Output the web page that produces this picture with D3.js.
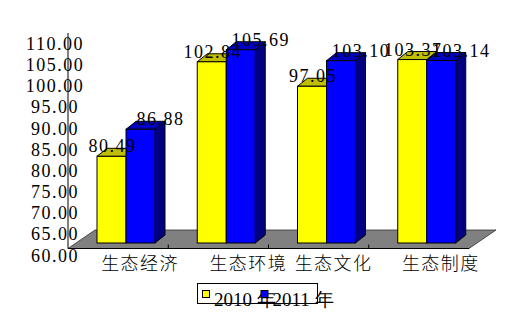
<!DOCTYPE html>
<meta charset="utf-8">
<script src="https://cdnjs.cloudflare.com/ajax/libs/d3/7.3.0/d3.min.js"></script>
<style>
  body { margin: 0; background: #fff; }
</style>
<div id="chart"></div>
<script>
// data
const categories = ["生态经济", "生态环境", "生态文化", "生态制度"];
const seriesNames = ["2010 年", "2011 年"];
const values2010 = [80.49, 102.84, 97.05, 103.37];
const values2011 = [86.88, 105.69, 103.10, 103.14];
const yTickValues = [60, 65, 70, 75, 80, 85, 90, 95, 100, 105, 110];

const width = 510, height = 328;
const numFont = "'Liberation Serif', 'DejaVu Serif', serif";
const cjkFont = "'Noto Sans CJK SC', sans-serif";

const svg = d3.select("#chart").append("svg")
    .attr("width", width).attr("height", height);
svg.append("rect").attr("width", width).attr("height", height).attr("fill", "#fff");

// scales
const x = d3.scaleBand().domain(categories).range([68, 469]);
const y = d3.scaleLinear().domain([60, 110]).range([243, 31.5]);
const floorY = 248.5, floorDx = 27, floorDy = 18.5;
const barW = 29, depthX = 10, depthY = 8;

// floor
const [fx0, fx1] = x.range();
svg.append("polygon")
    .attr("points", [[fx0, floorY], [fx1, floorY], [fx1 + floorDx, floorY - floorDy], [fx0 + floorDx, floorY - floorDy]].join(" "))
    .attr("fill", "#808080").attr("stroke", "#303030").attr("stroke-width", 0.8);

// category axis line + ticks
svg.append("line").attr("x1", fx0).attr("x2", fx1).attr("y1", floorY).attr("y2", floorY)
    .attr("stroke", "#000");
categories.slice(1).forEach(c => {
    svg.append("line").attr("x1", x(c)).attr("x2", x(c)).attr("y1", floorY - 4).attr("y2", floorY)
        .attr("stroke", "#000");
});

// bars
const colors = [
    { front: "#ffff00", top: "#bfbf00", side: "#808000" },
    { front: "#0000ff", top: "#0000c0", side: "#000080" }
];
const seriesVals = [values2010, values2011];

function drawBar(x0, v, col) {
    const top = y(v), base = y(60);
    svg.append("polygon")
        .attr("points", [[x0 + barW, top], [x0 + barW + depthX, top - depthY], [x0 + barW + depthX, base - depthY], [x0 + barW, base]].join(" "))
        .attr("fill", col.side).attr("stroke", "#000").attr("stroke-width", 1);
    svg.append("polygon")
        .attr("points", [[x0, top], [x0 + barW, top], [x0 + barW + depthX, top - depthY], [x0 + depthX, top - depthY]].join(" "))
        .attr("fill", col.top).attr("stroke", "#000").attr("stroke-width", 1);
    svg.append("rect")
        .attr("x", x0).attr("y", top).attr("width", barW).attr("height", base - top)
        .attr("fill", col.front).attr("stroke", "#000").attr("stroke-width", 1);
}

categories.forEach((c, i) => {
    const start = x(c) + 29;
    seriesVals.forEach((vals, s) => drawBar(start + s * barW, vals[i], colors[s]));
});

// value labels
const labelShift = [1, 20];
categories.forEach((c, i) => {
    const start = x(c) + 29;
    seriesVals.forEach((vals, s) => {
        svg.append("text")
            .attr("x", start + s * barW + barW / 2 + labelShift[s])
            .attr("y", y(vals[i]) - 4)
            .attr("text-anchor", "middle")
            .attr("font-family", numFont).attr("font-size", 18)
            .attr("letter-spacing", 1.5)
            .attr("fill", "#000")
            .text(vals[i].toFixed(2));
    });
});

// y axis labels
yTickValues.forEach(v => {
    svg.append("text")
        .attr("x", 55).attr("y", y(v) + 18.5)
        .attr("text-anchor", "middle")
        .attr("font-family", numFont).attr("font-size", 18)
        .attr("letter-spacing", 1.5)
        .attr("fill", "#000")
        .text(v.toFixed(2));
});

// y axis line
svg.append("line").attr("x1", fx0).attr("x2", fx0).attr("y1", 33).attr("y2", floorY)
    .attr("stroke", "#000");

// category labels
const catNudge = [0, 8, -7, 0];
categories.forEach((c, i) => {
    svg.append("text")
        .attr("x", x(c) + x.bandwidth() / 2 + 22 + catNudge[i])
        .attr("y", 270)
        .attr("text-anchor", "middle")
        .attr("font-family", cjkFont).attr("font-size", 18)
        .attr("font-weight", 300)
        .attr("letter-spacing", 1.5)
        .attr("fill", "#000")
        .text(c);
});

// legend
const legend = svg.append("g");
legend.append("rect").attr("x", 197.5).attr("y", 283.5).attr("width", 120).attr("height", 20)
    .attr("fill", "#fff").attr("stroke", "#000");
seriesNames.forEach((name, s) => {
    const lx = 202 + s * 58.5;
    legend.append("text")
        .attr("x", lx + 12).attr("y", 306)
        .attr("font-family", numFont).attr("font-size", 19)
        .attr("fill", "#000")
        .text(name);
});
seriesNames.forEach((name, s) => {
    const lx = 202 + s * 58.5;
    legend.append("rect")
        .attr("x", lx + 0.5).attr("y", 290.5).attr("width", 7).attr("height", 7)
        .attr("fill", colors[s].front).attr("stroke", "#000");
});
</script>
